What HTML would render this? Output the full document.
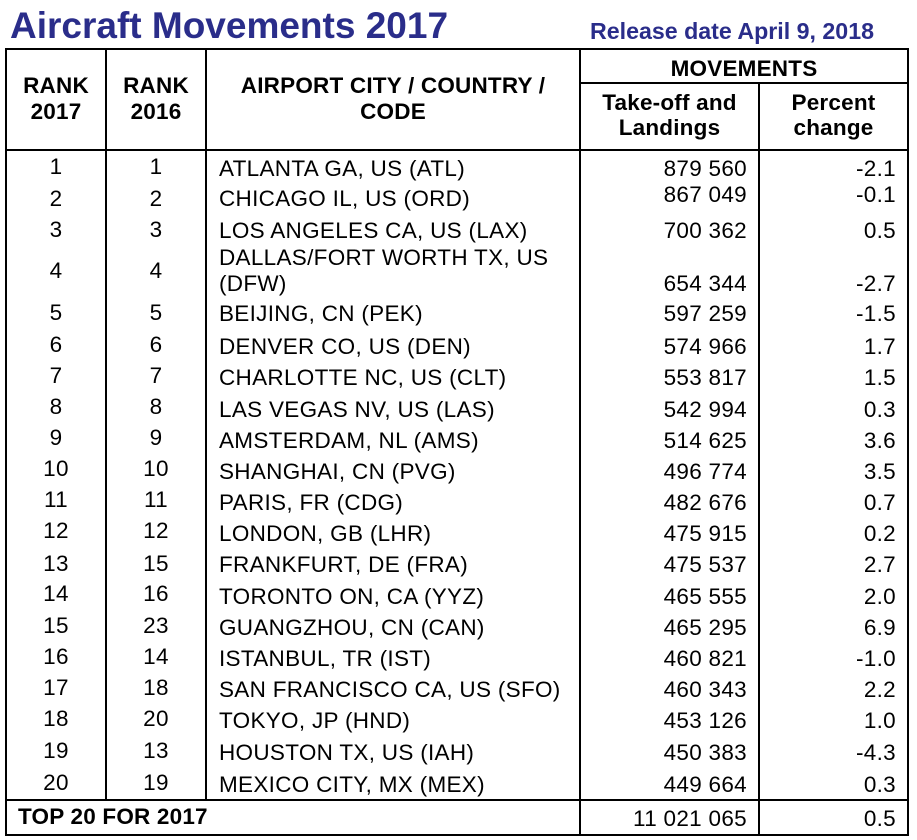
<!DOCTYPE html>
<html><head><meta charset="utf-8">
<style>
html,body{margin:0;padding:0;background:#fff;}
body{width:917px;height:840px;position:relative;overflow:hidden;font-family:"Liberation Sans",Arial,sans-serif;color:#000;}
.t{position:absolute;font-size:22.5px;line-height:26px;height:26px;white-space:nowrap;letter-spacing:0.3px;}
.b{font-weight:bold;letter-spacing:0.2px;}
.r1{left:6px;width:100px;text-align:center;}
.r2{left:106px;width:100px;text-align:center;}
.ap{left:219px;}
.mv{left:560px;width:187px;text-align:right;}
.pc{left:759px;width:137px;text-align:right;}
.h{position:absolute;background:#000;height:2px;}
.v{position:absolute;background:#000;width:2px;}
</style></head><body>
<div style="position:absolute;left:10px;top:6px;font-size:37px;line-height:40px;font-weight:bold;color:#2a2d8a;white-space:nowrap;">Aircraft Movements 2017</div>
<div style="position:absolute;left:590px;top:18px;font-size:23.2px;line-height:26px;font-weight:bold;color:#2a2d8a;white-space:nowrap;">Release date April 9, 2018</div>

<!-- grid lines -->
<div class="h" style="left:5px;width:904px;top:48px;"></div>
<div class="h" style="left:580px;width:329px;top:82px;"></div>
<div class="h" style="left:5px;width:904px;top:149px;"></div>
<div class="h" style="left:5px;width:904px;top:799px;"></div>
<div class="h" style="left:5px;width:904px;top:834px;"></div>
<div class="v" style="left:5px;top:48px;height:788px;"></div>
<div class="v" style="left:907px;top:48px;height:788px;"></div>
<div class="v" style="left:105px;top:48px;height:753px;"></div>
<div class="v" style="left:205px;top:48px;height:753px;"></div>
<div class="v" style="left:579px;top:48px;height:788px;"></div>
<div class="v" style="left:758px;top:83px;height:753px;"></div>

<!-- header -->
<div class="t b r1" style="top:73px;">RANK</div>
<div class="t b r1" style="top:99px;">2017</div>
<div class="t b r2" style="top:73px;">RANK</div>
<div class="t b r2" style="top:99px;">2016</div>
<div class="t b" style="left:206px;width:374px;text-align:center;top:73px;">AIRPORT CITY / COUNTRY /</div>
<div class="t b" style="left:206px;width:374px;text-align:center;top:99px;">CODE</div>
<div class="t b" style="left:580px;width:328px;text-align:center;top:56px;">MOVEMENTS</div>
<div class="t b" style="left:580px;width:179px;text-align:center;top:90px;">Take-off and</div>
<div class="t b" style="left:580px;width:179px;text-align:center;top:115px;">Landings</div>
<div class="t b" style="left:759px;width:149px;text-align:center;top:90px;">Percent</div>
<div class="t b" style="left:759px;width:149px;text-align:center;top:115px;">change</div>

<!-- rows -->
<div class="t r1" style="top:154px;">1</div><div class="t r2" style="top:154px;">1</div>
<div class="t ap" style="top:156px;">ATLANTA GA, US (ATL)</div><div class="t mv" style="top:156px;">879 560</div><div class="t pc" style="top:156px;">-2.1</div>

<div class="t r1" style="top:186px;">2</div><div class="t r2" style="top:186px;">2</div>
<div class="t ap" style="top:186px;">CHICAGO IL, US (ORD)</div><div class="t mv" style="top:182px;">867 049</div><div class="t pc" style="top:182px;">-0.1</div>

<div class="t r1" style="top:217px;">3</div><div class="t r2" style="top:217px;">3</div>
<div class="t ap" style="top:218px;">LOS ANGELES CA, US (LAX)</div><div class="t mv" style="top:218px;">700 362</div><div class="t pc" style="top:218px;">0.5</div>

<div class="t r1" style="top:258px;">4</div><div class="t r2" style="top:258px;">4</div>
<div class="t ap" style="top:245px;">DALLAS/FORT WORTH TX, US</div>
<div class="t ap" style="top:271px;">(DFW)</div><div class="t mv" style="top:271px;">654 344</div><div class="t pc" style="top:271px;">-2.7</div>

<div class="t r1" style="top:300px;">5</div><div class="t r2" style="top:300px;">5</div>
<div class="t ap" style="top:301px;">BEIJING, CN (PEK)</div><div class="t mv" style="top:301px;">597 259</div><div class="t pc" style="top:301px;">-1.5</div>

<div class="t r1" style="top:332px;">6</div><div class="t r2" style="top:332px;">6</div>
<div class="t ap" style="top:334px;">DENVER CO, US (DEN)</div><div class="t mv" style="top:334px;">574 966</div><div class="t pc" style="top:334px;">1.7</div>

<div class="t r1" style="top:363px;">7</div><div class="t r2" style="top:363px;">7</div>
<div class="t ap" style="top:365px;">CHARLOTTE NC, US (CLT)</div><div class="t mv" style="top:365px;">553 817</div><div class="t pc" style="top:365px;">1.5</div>

<div class="t r1" style="top:394px;">8</div><div class="t r2" style="top:394px;">8</div>
<div class="t ap" style="top:397px;">LAS VEGAS NV, US (LAS)</div><div class="t mv" style="top:397px;">542 994</div><div class="t pc" style="top:397px;">0.3</div>

<div class="t r1" style="top:425px;">9</div><div class="t r2" style="top:425px;">9</div>
<div class="t ap" style="top:428px;">AMSTERDAM, NL (AMS)</div><div class="t mv" style="top:428px;">514 625</div><div class="t pc" style="top:428px;">3.6</div>

<div class="t r1" style="top:456px;">10</div><div class="t r2" style="top:456px;">10</div>
<div class="t ap" style="top:459px;">SHANGHAI, CN (PVG)</div><div class="t mv" style="top:459px;">496 774</div><div class="t pc" style="top:459px;">3.5</div>

<div class="t r1" style="top:487px;">11</div><div class="t r2" style="top:487px;">11</div>
<div class="t ap" style="top:490px;">PARIS, FR (CDG)</div><div class="t mv" style="top:490px;">482 676</div><div class="t pc" style="top:490px;">0.7</div>

<div class="t r1" style="top:518px;">12</div><div class="t r2" style="top:518px;">12</div>
<div class="t ap" style="top:521px;">LONDON, GB (LHR)</div><div class="t mv" style="top:521px;">475 915</div><div class="t pc" style="top:521px;">0.2</div>

<div class="t r1" style="top:551px;">13</div><div class="t r2" style="top:551px;">15</div>
<div class="t ap" style="top:552px;">FRANKFURT, DE (FRA)</div><div class="t mv" style="top:552px;">475 537</div><div class="t pc" style="top:552px;">2.7</div>

<div class="t r1" style="top:581px;">14</div><div class="t r2" style="top:581px;">16</div>
<div class="t ap" style="top:584px;">TORONTO ON, CA (YYZ)</div><div class="t mv" style="top:584px;">465 555</div><div class="t pc" style="top:584px;">2.0</div>

<div class="t r1" style="top:613px;">15</div><div class="t r2" style="top:613px;">23</div>
<div class="t ap" style="top:615px;">GUANGZHOU, CN (CAN)</div><div class="t mv" style="top:615px;">465 295</div><div class="t pc" style="top:615px;">6.9</div>

<div class="t r1" style="top:644px;">16</div><div class="t r2" style="top:644px;">14</div>
<div class="t ap" style="top:646px;">ISTANBUL, TR (IST)</div><div class="t mv" style="top:646px;">460 821</div><div class="t pc" style="top:646px;">-1.0</div>

<div class="t r1" style="top:675px;">17</div><div class="t r2" style="top:675px;">18</div>
<div class="t ap" style="top:677px;">SAN FRANCISCO CA, US (SFO)</div><div class="t mv" style="top:677px;">460 343</div><div class="t pc" style="top:677px;">2.2</div>

<div class="t r1" style="top:706px;">18</div><div class="t r2" style="top:706px;">20</div>
<div class="t ap" style="top:708px;">TOKYO, JP (HND)</div><div class="t mv" style="top:708px;">453 126</div><div class="t pc" style="top:708px;">1.0</div>

<div class="t r1" style="top:738px;">19</div><div class="t r2" style="top:738px;">13</div>
<div class="t ap" style="top:740px;">HOUSTON TX, US (IAH)</div><div class="t mv" style="top:740px;">450 383</div><div class="t pc" style="top:740px;">-4.3</div>

<div class="t r1" style="top:770px;">20</div><div class="t r2" style="top:770px;">19</div>
<div class="t ap" style="top:772px;">MEXICO CITY, MX (MEX)</div><div class="t mv" style="top:772px;">449 664</div><div class="t pc" style="top:772px;">0.3</div>

<!-- total -->
<div class="t b" style="left:18px;top:804px;">TOP 20 FOR 2017</div>
<div class="t mv" style="top:806px;">11 021 065</div>
<div class="t pc" style="top:806px;">0.5</div>
</body></html>
